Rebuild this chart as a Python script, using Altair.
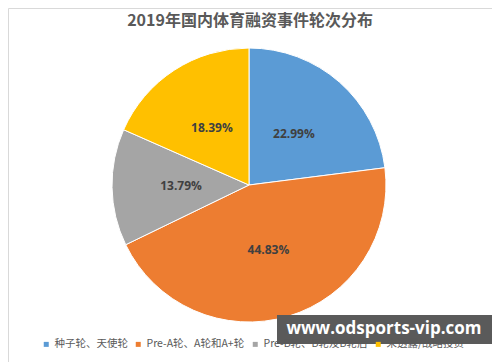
import altair as alt
import pandas as pd

title_text = "2019年国内体育融资事件轮次分布"
categories = ["种子轮、天使轮", "Pre-A轮、A轮和A+轮", "Pre-B轮、B轮及B轮后", "未透露/战略投资"]
values = [22.99, 44.83, 13.79, 18.39]
colors = ["#5B9BD5", "#ED7D31", "#A5A5A5", "#FFC000"]
watermark = "www.odsports-vip.com"

df = pd.DataFrame({
    "cat": categories,
    "val": values,
    "idx": list(range(len(categories))),
    "label": [f"{v:.2f}%" for v in values],
})

W, H = 484, 354
cx, cy = 241, 177

base = alt.Chart(df).encode(
    theta=alt.Theta("val:Q", stack=True),
    order=alt.Order("idx:Q"),
)

pie = base.mark_arc(outerRadius=137, stroke="white", strokeWidth=1).encode(
    x=alt.value(cx), y=alt.value(cy),
    color=alt.Color(
        "cat:N",
        scale=alt.Scale(domain=categories, range=colors),
        sort=categories,
        legend=alt.Legend(
            title=None, orient="none", legendX=33, legendY=331,
            direction="horizontal", columns=4, symbolType="square",
            symbolSize=25, symbolStrokeWidth=0, labelOffset=3,
            labelFontSize=10.5, labelColor="#595959",
            labelFont="Noto Sans CJK SC", columnPadding=5, symbolOffset=0,
            labelLimit=200, padding=0,
        ),
    ),
)

labels = base.mark_text(radius=68, fontSize=12, fontWeight="bold", color="#404040",
                        font="Open Sans").encode(
    x=alt.value(cx), y=alt.value(cy), text="label:N",
)

title = alt.Chart(pd.DataFrame({"t": [title_text]})).mark_text(
    fontSize=16, fontWeight="bold", color="#595959", font="Noto Sans CJK SC"
).encode(x=alt.value(W / 2), y=alt.value(13), text="t:N")

wm_df = pd.DataFrame({"t": [watermark]})
wm_rect = alt.Chart(wm_df).mark_rect(color="#5a5a5a").encode(
    x=alt.value(269), x2=alt.value(484), y=alt.value(307), y2=alt.value(336)
)
wm_text = alt.Chart(wm_df).mark_text(
    fontSize=17, fontWeight="bold", color="white", font="Open Sans"
).encode(x=alt.value(376), y=alt.value(321), text="t:N")

chart = alt.layer(pie, labels, title, wm_rect, wm_text).properties(
    width=W, height=H,
    autosize=alt.AutoSizeParams(type="none"),
    padding=0,
).configure_view(stroke="#d9d9d9", strokeWidth=1)

chart.save("out.html", embed_options={"renderer": "svg", "actions": False})
